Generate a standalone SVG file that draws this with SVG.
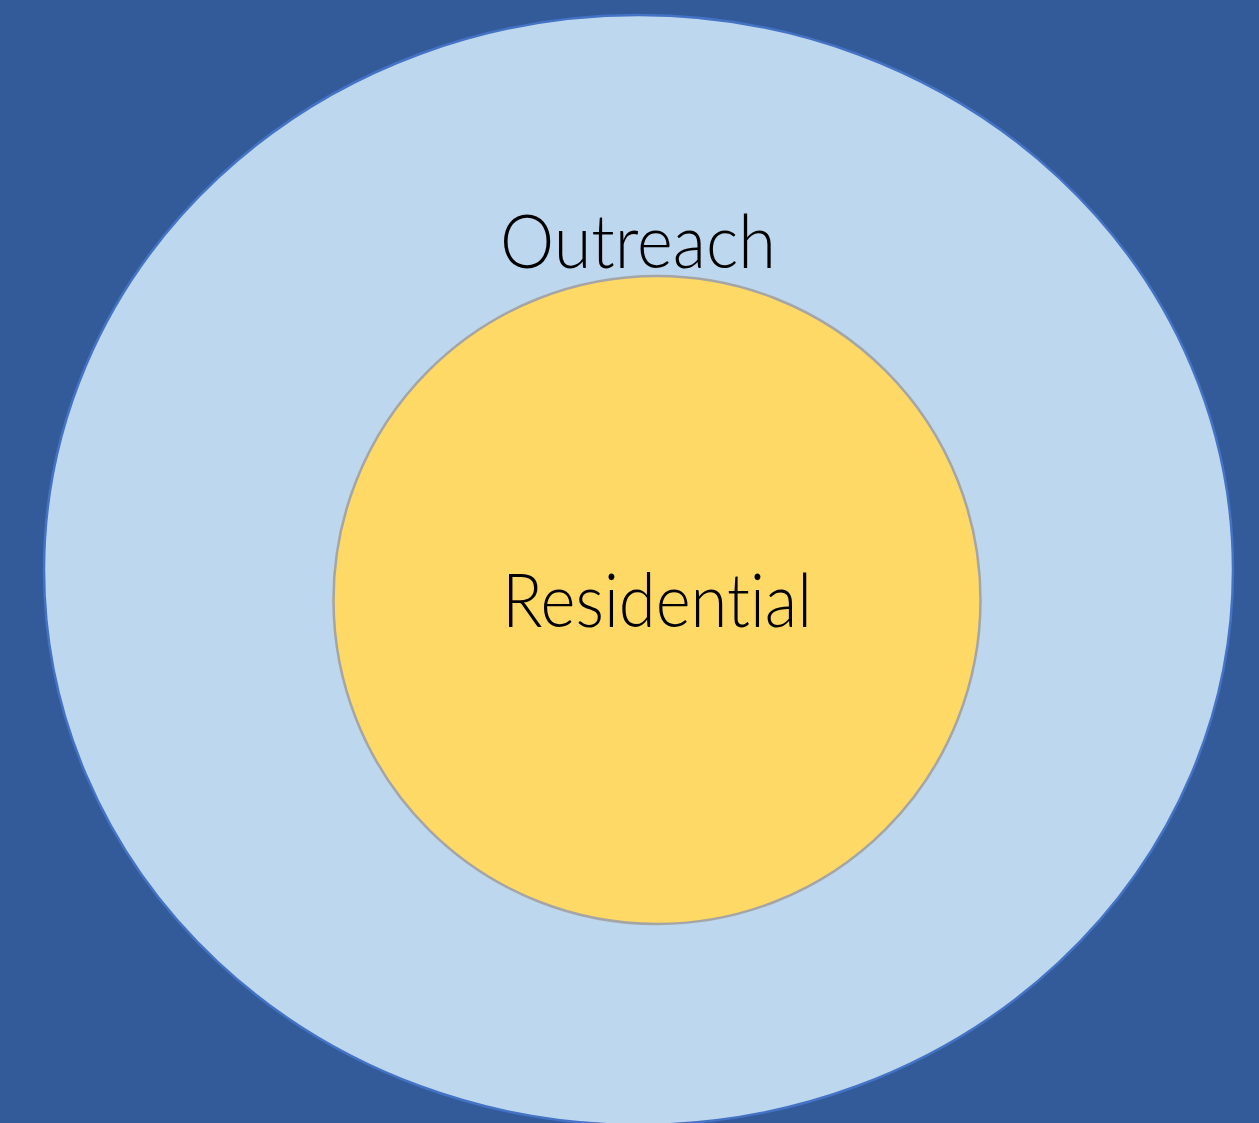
<svg xmlns="http://www.w3.org/2000/svg" width="1259" height="1123" viewBox="0 0 1259 1123">
<style>
.lbl{font-family:Lato,"Open Sans","Liberation Sans",sans-serif;font-weight:300;font-size:74px;fill:#000;font-variant-ligatures:none;font-feature-settings:"liga" 0,"clig" 0;}
</style>
<rect x="0" y="0" width="1259" height="1123" fill="#335A99"/>
<g id="outreach">
<ellipse cx="638.5" cy="570" rx="594.5" ry="555" fill="#BDD7EE" stroke="#4472C4" stroke-width="2.5"/>
<text class="lbl" x="638" y="268" text-anchor="middle" textLength="276" lengthAdjust="spacingAndGlyphs">Outreach</text>
</g>
<g id="residential">
<ellipse cx="657" cy="600" rx="323.5" ry="324" fill="#FED966" stroke="#A5A5A5" stroke-width="2.5"/>
<text class="lbl" x="657" y="627" text-anchor="middle" textLength="310" lengthAdjust="spacingAndGlyphs">Residential</text>
</g>
<g id="connectors"/>
</svg>
